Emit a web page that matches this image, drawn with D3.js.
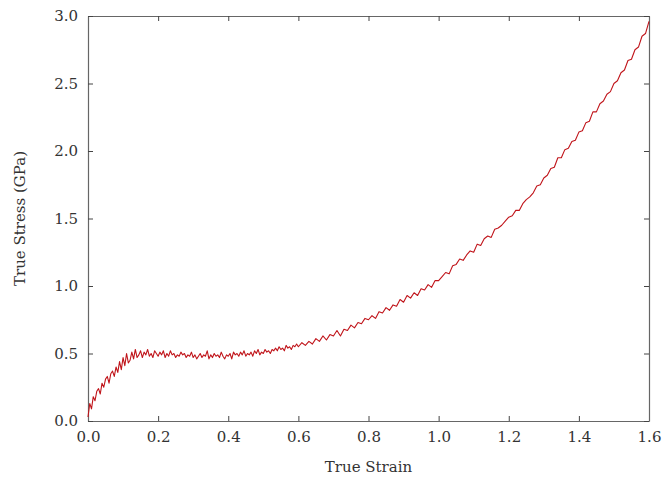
<!DOCTYPE html>
<html>
<head>
<meta charset="utf-8">
<script src="https://cdn.jsdelivr.net/npm/d3@7"></script>
<style>
  html, body { margin: 0; padding: 0; background: #fff; }
  svg { display: block; }
</style>
</head>
<body>
<svg id="chart" width="663" height="479"></svg>
<script>
// 横轴：真应变
const strain = [
  0.000,0.005,0.010,0.015,0.020,0.025,0.030,0.035,0.040,0.045,
  0.050,0.055,0.060,0.065,0.070,0.075,0.080,0.085,0.090,0.095,
  0.100,0.105,0.110,0.115,0.120,0.125,0.130,0.135,0.140,0.145,
  0.150,0.155,0.160,0.165,0.170,0.175,0.180,0.185,0.190,0.195,
  0.200,0.205,0.210,0.215,0.220,0.225,0.230,0.235,0.240,0.245,
  0.250,0.255,0.260,0.265,0.270,0.275,0.280,0.285,0.290,0.295,
  0.300,0.305,0.310,0.315,0.320,0.325,0.330,0.335,0.340,0.345,
  0.350,0.355,0.360,0.365,0.370,0.375,0.380,0.385,0.390,0.395,
  0.400,0.405,0.410,0.415,0.420,0.425,0.430,0.435,0.440,0.445,
  0.450,0.455,0.460,0.465,0.470,0.475,0.480,0.485,0.490,0.495,
  0.500,0.505,0.510,0.515,0.520,0.525,0.530,0.535,0.540,0.545,
  0.550,0.555,0.560,0.565,0.570,0.575,0.580,0.585,0.590,0.595,
  0.600,0.61,0.62,0.63,0.64,0.65,0.66,0.67,0.68,0.69,
  0.70,0.71,0.72,0.73,0.74,0.75,0.76,0.77,0.78,0.79,
  0.80,0.81,0.82,0.83,0.84,0.85,0.86,0.87,0.88,0.89,
  0.90,0.91,0.92,0.93,0.94,0.95,0.96,0.97,0.98,0.99,
  1.00,1.01,1.02,1.03,1.04,1.05,1.06,1.07,1.08,1.09,
  1.10,1.11,1.12,1.13,1.14,1.15,1.16,1.17,1.18,1.19,
  1.20,1.21,1.22,1.23,1.24,1.25,1.26,1.27,1.28,1.29,
  1.30,1.31,1.32,1.33,1.34,1.35,1.36,1.37,1.38,1.39,
  1.40,1.41,1.42,1.43,1.44,1.45,1.46,1.47,1.48,1.49,
  1.50,1.51,1.52,1.53,1.54,1.55,1.56,1.57,1.58,1.59,
  1.60
];

// 纵轴：真应力 (GPa)
const stress = [
  0.03,0.13,0.09,0.18,0.15,0.22,0.24,0.20,0.28,0.25,
  0.31,0.33,0.28,0.35,0.37,0.33,0.40,0.36,0.44,0.38,
  0.47,0.41,0.50,0.43,0.45,0.51,0.46,0.53,0.47,0.49,
  0.52,0.47,0.51,0.49,0.53,0.48,0.50,0.47,0.52,0.50,
  0.48,0.51,0.49,0.52,0.47,0.50,0.48,0.52,0.49,0.50,
  0.47,0.49,0.48,0.51,0.49,0.50,0.47,0.49,0.48,0.51,
  0.47,0.49,0.46,0.48,0.50,0.47,0.49,0.48,0.52,0.46,
  0.49,0.47,0.50,0.48,0.49,0.47,0.51,0.48,0.46,0.49,
  0.48,0.50,0.46,0.51,0.49,0.50,0.48,0.51,0.49,0.52,
  0.48,0.50,0.49,0.51,0.48,0.52,0.50,0.53,0.49,0.51,
  0.50,0.53,0.51,0.52,0.50,0.53,0.52,0.54,0.52,0.55,
  0.53,0.54,0.52,0.56,0.54,0.55,0.53,0.56,0.55,0.57,
  0.55,0.58,0.56,0.59,0.57,0.61,0.59,0.63,0.60,0.64,
  0.63,0.67,0.63,0.68,0.67,0.71,0.69,0.73,0.72,0.76,
  0.75,0.78,0.76,0.81,0.80,0.84,0.82,0.86,0.85,0.90,
  0.88,0.93,0.91,0.95,0.93,0.98,0.97,1.01,0.99,1.04,
  1.04,1.07,1.10,1.09,1.15,1.16,1.20,1.19,1.23,1.26,
  1.25,1.31,1.30,1.35,1.37,1.36,1.42,1.43,1.45,1.48,
  1.51,1.52,1.56,1.56,1.61,1.64,1.66,1.69,1.74,1.75,
  1.80,1.82,1.87,1.88,1.95,1.95,2.01,2.02,2.07,2.08,
  2.14,2.15,2.21,2.22,2.29,2.29,2.35,2.37,2.42,2.44,
  2.50,2.52,2.58,2.60,2.67,2.68,2.75,2.77,2.85,2.87,
  2.96
];

const xTicks = [0, 0.2, 0.4, 0.6, 0.8, 1.0, 1.2, 1.4, 1.6];
const yTicks = [0, 0.5, 1.0, 1.5, 2.0, 2.5, 3.0];

const width = 663, height = 479;
const margin = { top: 16, right: 14, bottom: 58, left: 88 };
const innerW = width - margin.left - margin.right;
const innerH = height - margin.top - margin.bottom;
// 衬线字体（Liberation Serif 在环境里不可用，改用 DejaVu Serif）
const font = "'DejaVu Serif', serif";

const svg = d3.select("#chart");
const g = svg.append("g").attr("transform", `translate(${margin.left},${margin.top})`);

const x = d3.scaleLinear().domain([0, 1.6]).range([0, innerW]);
const y = d3.scaleLinear().domain([0, 3.0]).range([innerH, 0]);

const fmt = d3.format(".1f");
const axisColor = "#666";

// 四边轴，刻度朝内
const axes = [
  g.append("g")
    .attr("transform", `translate(0,${innerH})`)
    .call(d3.axisBottom(x).tickValues(xTicks).tickFormat(fmt).tickSizeInner(-5).tickSizeOuter(0).tickPadding(10)),
  g.append("g")
    .call(d3.axisTop(x).tickValues(xTicks).tickFormat("").tickSizeInner(-5).tickSizeOuter(0)),
  g.append("g")
    .call(d3.axisLeft(y).tickValues(yTicks).tickFormat(fmt).tickSizeInner(-5).tickSizeOuter(0).tickPadding(10)),
  g.append("g")
    .attr("transform", `translate(${innerW},0)`)
    .call(d3.axisRight(y).tickValues(yTicks).tickFormat("").tickSizeInner(-5).tickSizeOuter(0))
];

axes.forEach(a => {
  a.attr("font-family", font).attr("font-size", 15);
  a.select(".domain").attr("stroke", axisColor).attr("stroke-width", 1.2);
  a.selectAll(".tick line").attr("stroke", "#444");
  a.selectAll(".tick text").attr("fill", "#333");
});

// 曲线
const line = d3.line()
  .x((d, i) => x(strain[i]))
  .y(d => y(d));

g.append("path")
  .datum(stress)
  .attr("fill", "none")
  .attr("stroke", "#c0141a")
  .attr("stroke-width", 1.1)
  .attr("stroke-linejoin", "round")
  .attr("d", line);

// 轴标题
svg.append("text")
  .attr("x", margin.left + innerW / 2)
  .attr("y", 472)
  .attr("text-anchor", "middle")
  .attr("font-family", font)
  .attr("font-size", 15)
  .attr("fill", "#333")
  .text("True Strain");

svg.append("text")
  .attr("transform", `translate(25,${margin.top + innerH / 2}) rotate(-90)`)
  .attr("text-anchor", "middle")
  .attr("font-family", font)
  .attr("font-size", 15)
  .attr("fill", "#333")
  .text("True Stress (GPa)");
</script>
</body>
</html>
